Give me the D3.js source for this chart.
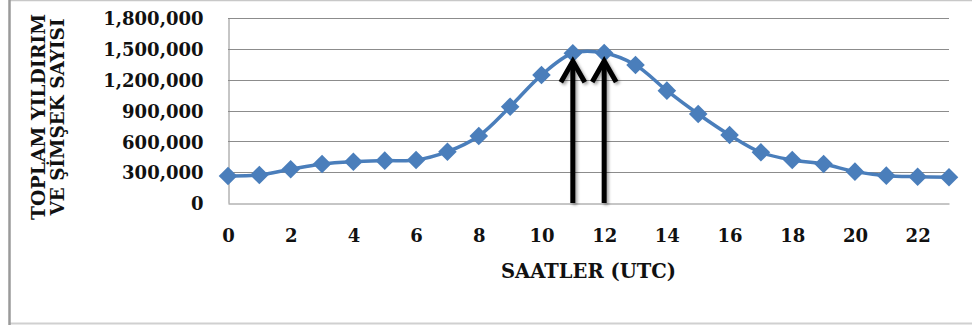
<!DOCTYPE html>
<html>
<head>
<meta charset="utf-8">
<script src="https://cdn.jsdelivr.net/npm/d3@7"></script>
<style>
  html, body { margin: 0; padding: 0; background: #fff; }
  svg { display: block; }
</style>
</head>
<body>
<svg id="chart" width="972" height="325"></svg>
<script>
// ---- data ----
const hours = d3.range(0, 24);
const counts = [263000, 272000, 328000, 379000, 402000, 412000, 418000, 499000,
                652000, 937000, 1245000, 1457000, 1460000, 1343000, 1093000, 866000,
                662000, 493000, 418000, 379000, 305000, 266000, 256000, 250000];
const yTicks = [0, 300000, 600000, 900000, 1200000, 1500000, 1800000];
const xTicks = [0, 2, 4, 6, 8, 10, 12, 14, 16, 18, 20, 22];
const arrowHours = [11, 12];
const xTitle = "SAATLER (UTC)";
const yTitleLines = ["TOPLAM YILDIRIM", "VE ŞİMŞEK SAYISI"];

// ---- layout ----
const svg = d3.select("#chart");
const plotL = 228, plotR = 949, plotT = 18, plotB = 203;
const x = d3.scaleLinear().domain([0, 23]).range([plotL, plotR]);
const y = d3.scaleLinear().domain([0, 1800000]).range([plotB, plotT]);
const blue = "#4A7EBB";
const gridColor = "#8c8c8c";
const tickFont = "'DejaVu Serif', serif";

// outer border
svg.append("line").attr("x1", 10).attr("x2", 972).attr("y1", 0.5).attr("y2", 0.5)
  .attr("stroke", "#c8c8c8").attr("stroke-width", 1.5);
svg.append("line").attr("x1", 10).attr("x2", 972).attr("y1", 323.5).attr("y2", 323.5)
  .attr("stroke", "#d0d0d0").attr("stroke-width", 2);
svg.append("line").attr("x1", 9.5).attr("x2", 9.5).attr("y1", 0).attr("y2", 325)
  .attr("stroke", "#9a9a9a").attr("stroke-width", 2.5);

// defs: arrow shadow
const defs = svg.append("defs");
const f = defs.append("filter").attr("id", "shadow").attr("x", "-50%").attr("y", "-20%")
  .attr("width", "200%").attr("height", "140%");
f.append("feDropShadow").attr("dx", 2).attr("dy", 2).attr("stdDeviation", 1.5)
  .attr("flood-color", "#000").attr("flood-opacity", 0.35);

// gridlines
svg.append("g").selectAll("line").data(yTicks.filter(d => d > 0)).join("line")
  .attr("x1", plotL).attr("x2", plotR)
  .attr("y1", d => Math.round(y(d)) + 0.5).attr("y2", d => Math.round(y(d)) + 0.5)
  .attr("stroke", gridColor).attr("stroke-width", 1);

// axes
const yAxis = d3.axisLeft(y).tickValues(yTicks).tickSize(0).tickPadding(25)
  .tickFormat(d3.format(","));
const gy = svg.append("g").attr("transform", `translate(${plotL + 0.5},0)`).call(yAxis);
gy.select(".domain").attr("stroke", gridColor);
gy.selectAll("text").attr("font-family", tickFont).attr("font-weight", "bold")
  .attr("font-size", 18).attr("fill", "#111").attr("dy", "0.37em");

const xAxis = d3.axisBottom(x).tickValues(xTicks).tickSize(0).tickPadding(25)
  .tickFormat(d3.format("d"));
const gx = svg.append("g").attr("transform", `translate(0,${plotB + 0.5})`).call(xAxis);
gx.select(".domain").attr("stroke", gridColor);
gx.selectAll("text").attr("font-family", tickFont).attr("font-weight", "bold")
  .attr("font-size", 18).attr("fill", "#111").attr("dy", "0").attr("y", 38);

// line
const line = d3.line().x((d, i) => x(hours[i])).y(d => y(d)).curve(d3.curveCatmullRom.alpha(0.5));
svg.append("path").datum(counts).attr("d", line)
  .attr("fill", "none").attr("stroke", blue).attr("stroke-width", 3.5);

// markers
const diamond = d3.symbol().type(d3.symbolDiamond2).size(220);
svg.append("g").selectAll("path").data(counts).join("path")
  .attr("d", diamond)
  .attr("transform", (d, i) => `translate(${x(hours[i])},${y(d)})`)
  .attr("fill", blue);

// arrows
const ag = svg.append("g").attr("filter", "url(#shadow)");
arrowHours.forEach(h => {
  const cx = x(h);
  const tipY = y(counts[h]) + 8;
  ag.append("line").attr("x1", cx).attr("x2", cx).attr("y1", plotB).attr("y2", tipY + 2)
    .attr("stroke", "#000").attr("stroke-width", 5);
  ag.append("path")
    .attr("d", `M${cx - 12},${tipY + 21} L${cx},${tipY} L${cx + 12},${tipY + 21}`)
    .attr("fill", "none").attr("stroke", "#000").attr("stroke-width", 5)
    .attr("stroke-linejoin", "miter");
});

// axis titles
svg.append("text").attr("x", (plotL + plotR) / 2).attr("y", 278)
  .attr("text-anchor", "middle").attr("font-family", tickFont).attr("font-weight", "bold")
  .attr("font-size", 21).attr("fill", "#111")
  .attr("textLength", 175).attr("lengthAdjust", "spacingAndGlyphs")
  .text(xTitle);

const yt = [{t: yTitleLines[0], x: 45, len: 206}, {t: yTitleLines[1], x: 64, len: 197}];
yt.forEach(o => {
  svg.append("text")
    .attr("transform", `translate(${o.x},117) rotate(-90)`)
    .attr("text-anchor", "middle").attr("font-family", tickFont).attr("font-weight", "bold")
    .attr("font-size", 19).attr("fill", "#111")
    .attr("textLength", o.len).attr("lengthAdjust", "spacingAndGlyphs")
    .text(o.t);
});
</script>
</body>
</html>
